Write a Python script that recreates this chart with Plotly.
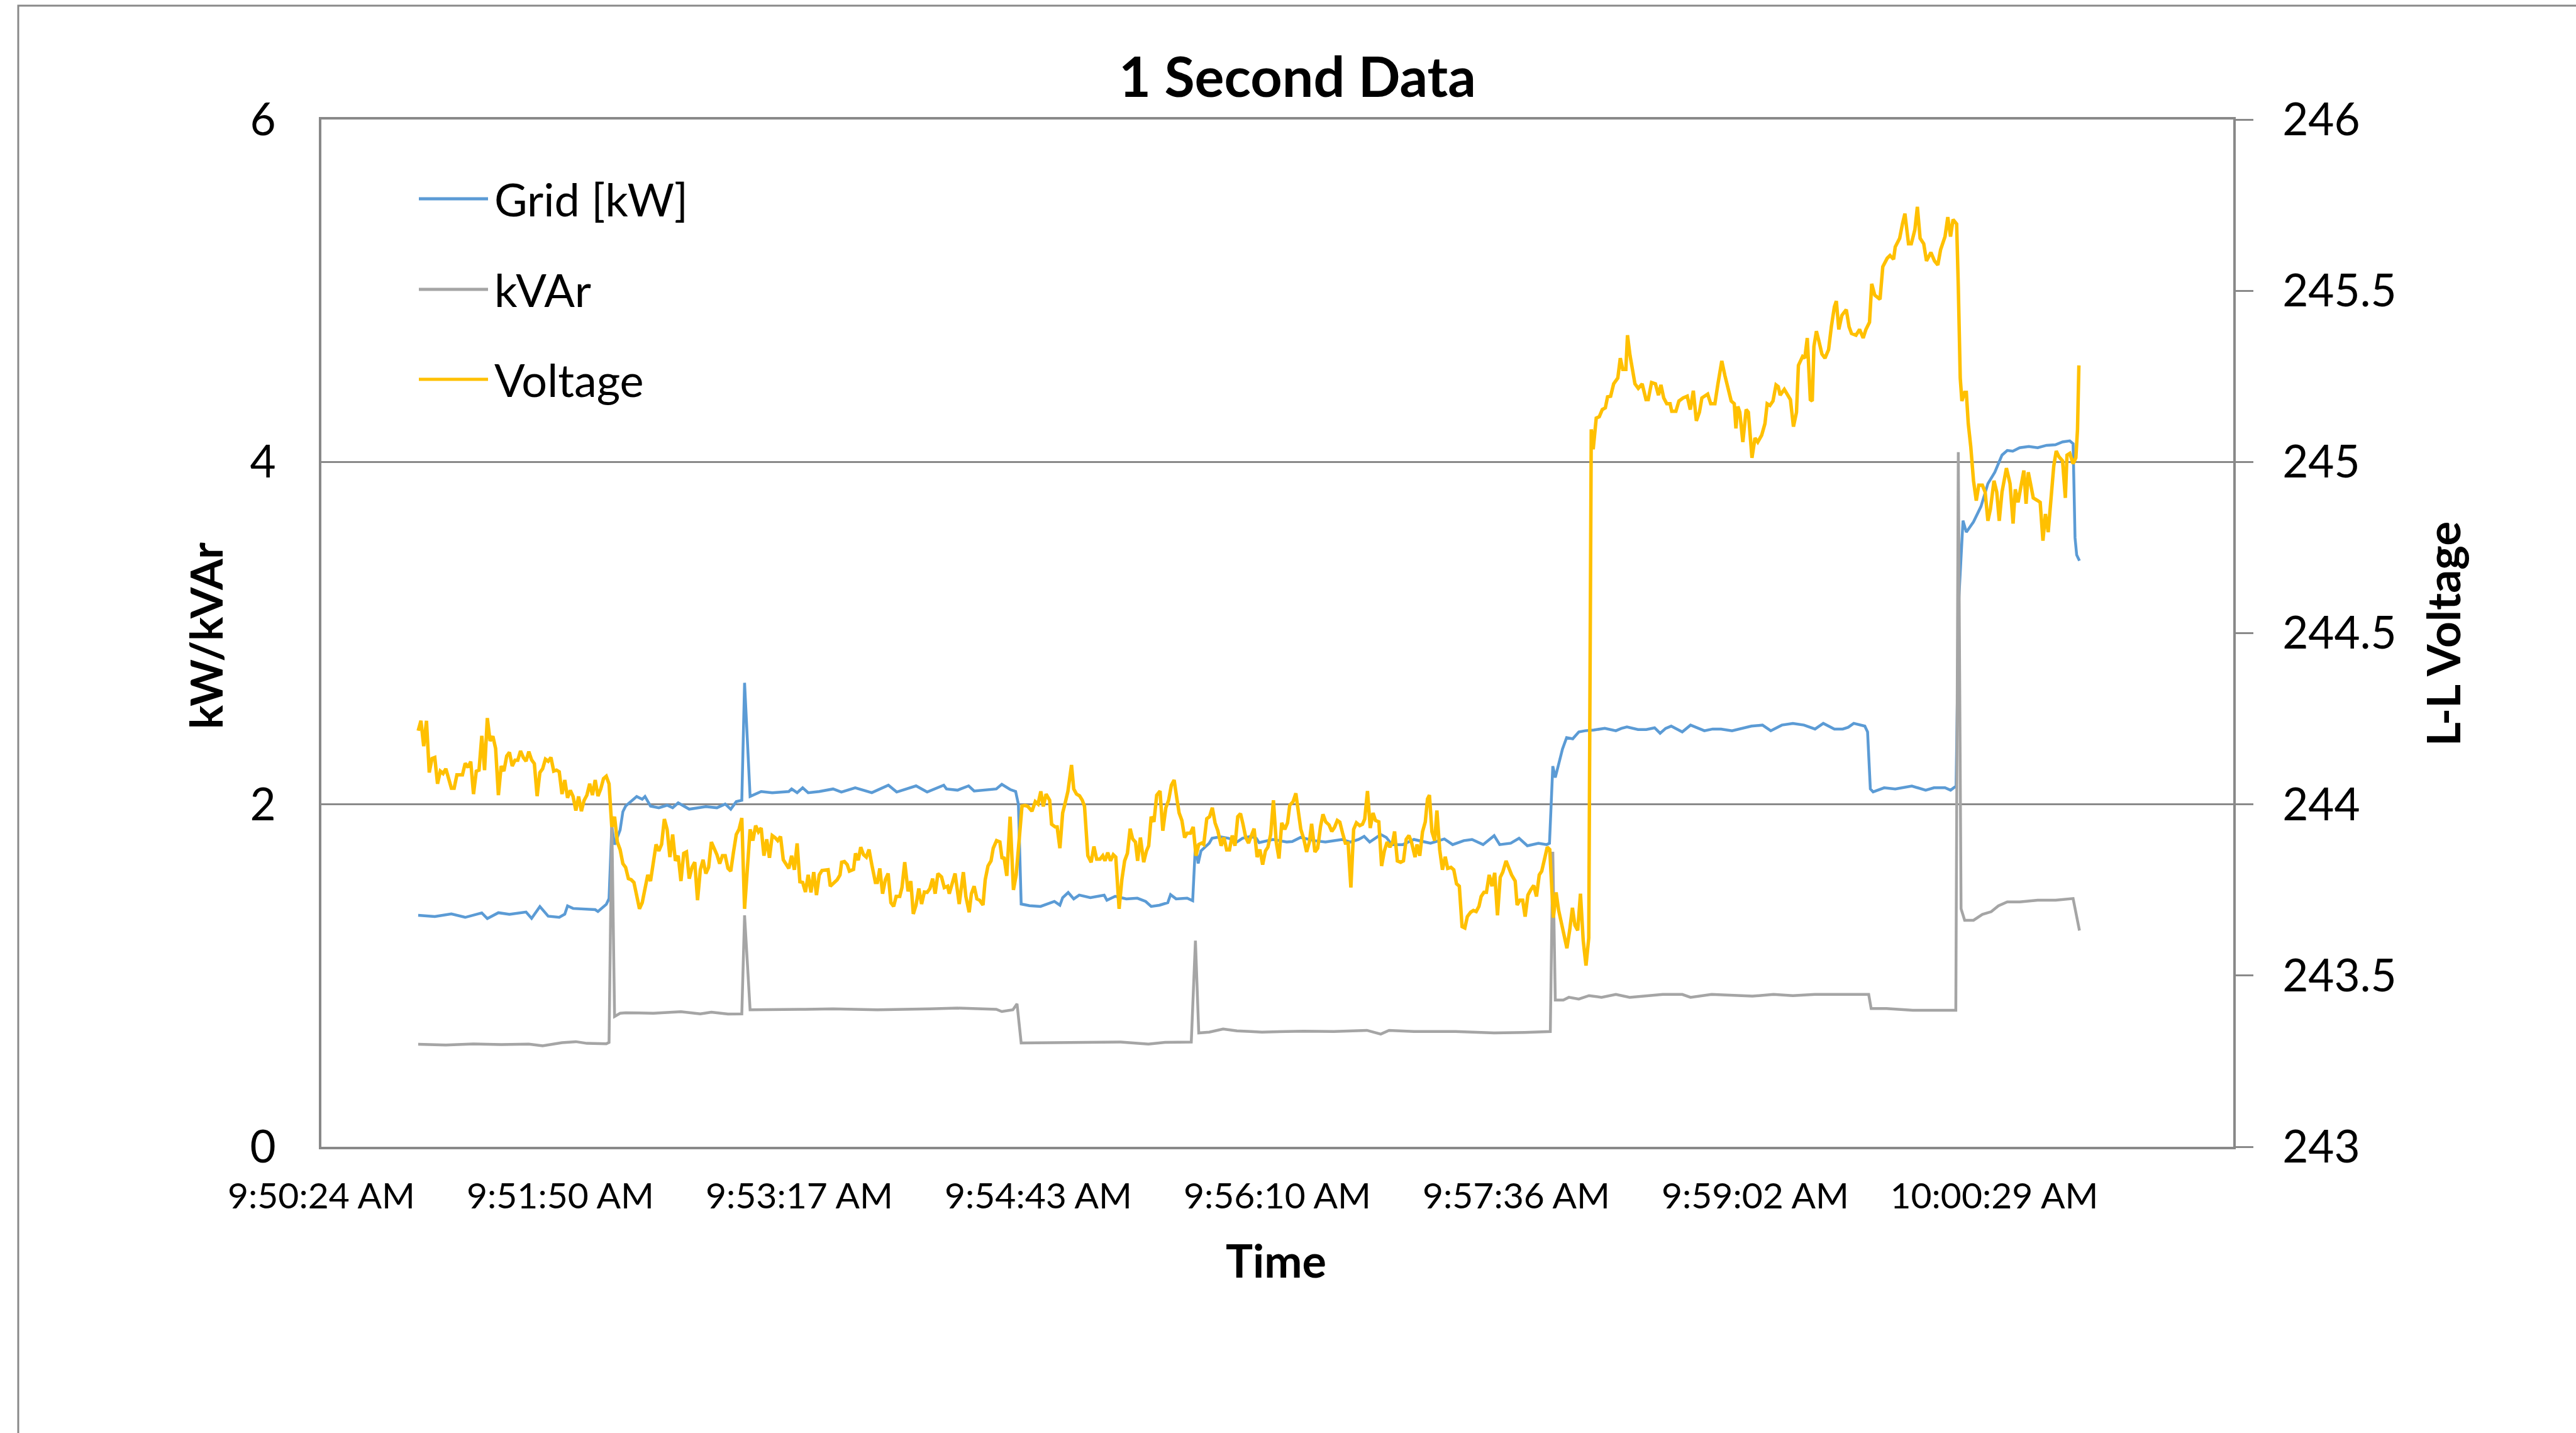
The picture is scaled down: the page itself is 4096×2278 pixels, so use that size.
import plotly.graph_objects as go

# ---------------- data ----------------
# time values are seconds after 9:50:24 AM (the axis origin)
tick_seconds = [0, 86.4, 172.8, 259.2, 345.6, 432.0, 518.4, 604.8]
tick_labels = ["9:50:24 AM", "9:51:50 AM", "9:53:17 AM", "9:54:43 AM",
               "9:56:10 AM", "9:57:36 AM", "9:59:02 AM", "10:00:29 AM"]

series_names = ["Grid [kW]", "kVAr", "Voltage"]

grid_t = [35, 41, 47, 52, 58, 60, 64, 68, 74, 76, 79, 82, 86, 88, 89, 91, 99, 100, 103, 104,
          105, 106, 108, 109, 110, 112, 114, 116, 117, 119, 122, 125, 127, 129, 133, 139, 143,
          146, 148, 150, 152, 153, 155, 159, 163, 169, 170, 172, 174, 176, 180, 185, 188, 193,
          199, 205, 208, 215, 219, 225, 226, 230, 234, 236, 244, 246, 249, 251, 252, 253, 256,
          260, 265, 267, 268, 270, 272, 274, 278, 283, 284, 287, 291, 295, 298, 300, 303, 306,
          307, 309, 313, 315, 316, 317, 318, 321, 322, 325, 328, 331, 333, 336, 338, 339, 341,
          344, 349, 351, 354, 359, 363, 369, 372, 375, 377, 379, 383, 385, 387, 391, 393, 395,
          399, 401, 406, 409, 413, 416, 420, 424, 426, 430, 433, 436, 440, 443, 444, 445.2,
          446.1, 447.2, 448.7, 450.2, 452.4, 454.6, 456.9, 460, 464, 468, 470, 472, 476, 479,
          482, 484, 486, 488, 492, 495, 500, 503, 506, 510, 517, 521, 524, 528, 532, 536, 540,
          543, 547, 550, 552, 554, 558, 559, 560, 561, 565, 569, 575, 580, 583, 587, 589, 591,
          592, 593.5, 594.7, 597.3, 600, 602.5, 605, 607.6, 609.5, 611.5, 614, 617.3, 620.5,
          623.7, 626.9, 629.5, 632.1, 633.3, 634.0, 634.6, 635.6]
grid_kw = [1.352, 1.345, 1.36, 1.34, 1.366, 1.333, 1.367, 1.358, 1.371, 1.334, 1.403, 1.347,
           1.34, 1.359, 1.407, 1.392, 1.385, 1.374, 1.416, 1.45,
           1.87, 1.765, 1.85, 1.957, 1.99, 2.016, 2.046, 2.03, 2.046, 1.99, 1.98, 1.995, 1.98,
           2.009, 1.972, 1.987, 1.98, 2.002, 1.972, 2.016, 2.024, 2.71, 2.046, 2.075, 2.068,
           2.075, 2.09, 2.068, 2.097, 2.068, 2.075, 2.09, 2.072, 2.097,
           2.068, 2.112, 2.072, 2.108, 2.072, 2.112, 2.09, 2.083, 2.108, 2.078, 2.09, 2.117,
           2.087, 2.075, 2.0, 1.418, 1.408,
           1.404, 1.433, 1.411, 1.455, 1.485, 1.448, 1.47, 1.455, 1.47, 1.44, 1.463, 1.448,
           1.452, 1.433, 1.404, 1.411, 1.426,
           1.473, 1.448, 1.452, 1.437, 1.765, 1.655, 1.728, 1.773, 1.802, 1.81, 1.802, 1.78,
           1.802, 1.813, 1.802, 1.777, 1.783,
           1.795, 1.78, 1.783, 1.807, 1.788, 1.78, 1.795, 1.78, 1.795, 1.813, 1.78, 1.824,
           1.807, 1.765, 1.765, 1.78, 1.795,
           1.78, 1.773, 1.798, 1.765, 1.788, 1.795, 1.765, 1.817, 1.765, 1.773, 1.802, 1.758,
           1.773, 1.765, 1.773, 2.223,
           2.157, 2.223, 2.323, 2.39, 2.383, 2.423, 2.43, 2.434, 2.444, 2.43, 2.444, 2.452,
           2.437, 2.437,
           2.447, 2.415, 2.444, 2.457, 2.423, 2.463, 2.43, 2.44, 2.44, 2.43, 2.457, 2.463,
           2.43, 2.463, 2.473, 2.463, 2.44,
           2.473, 2.44, 2.44, 2.45, 2.473, 2.457, 2.423, 2.09, 2.073, 2.097, 2.09, 2.107,
           2.083, 2.097, 2.097, 2.083, 2.107,
           3.2, 3.657, 3.59, 3.65, 3.74, 3.873, 3.94, 4.04, 4.067, 4.063, 4.083, 4.09, 4.083,
           4.097, 4.1, 4.117, 4.123, 4.107, 3.557, 3.457, 3.423]

kvar_t = [35, 45, 55, 65, 75, 80, 87, 92, 96, 103, 104, 105, 106, 108, 110, 120, 130, 137,
          141, 147, 152, 153, 155, 165, 175, 185, 201, 220, 230, 244, 246, 250, 251.5, 253,
          260, 270, 280, 289, 299, 305, 314.5, 316, 317.2, 321, 326, 331, 336, 340, 355, 366,
          378, 383, 386, 395, 410, 424, 435, 443.5, 444.3, 445.2, 446.1, 449, 451, 454.6,
          458.3, 462.8, 468, 473, 480.5, 485, 492, 495, 502.6, 510, 517.4, 525, 532, 540, 547,
          555, 559.4, 560.3, 565.8, 575.4, 585, 590.9, 591.8, 592.8, 594.1, 597.3, 600.5,
          603.7, 606.3, 609.5, 614, 620.5, 627, 633.3, 635.6]
kvar = [0.599, 0.594, 0.601, 0.597, 0.6, 0.59, 0.608, 0.614, 0.604, 0.602, 0.61, 1.913,
        0.761, 0.78, 0.783, 0.78, 0.789, 0.776, 0.786, 0.775, 0.776, 1.352, 0.8, 0.8, 0.803,
        0.806, 0.8, 0.806, 0.81, 0.803, 0.79, 0.8, 0.835, 0.606, 0.607, 0.61, 0.609, 0.612,
        0.6, 0.61, 0.612, 1.204, 0.665, 0.67, 0.688, 0.677, 0.673, 0.67, 0.675, 0.673, 0.68,
        0.658, 0.68, 0.673, 0.673, 0.665, 0.668, 0.673, 0.673, 1.723, 0.857, 0.857, 0.873,
        0.863, 0.883, 0.873, 0.89, 0.873, 0.883, 0.89, 0.89, 0.873, 0.89, 0.883, 0.88, 0.89,
        0.883, 0.89, 0.89, 0.89, 0.89, 0.807, 0.807, 0.797, 0.797, 0.797, 4.057, 1.39, 1.323,
        1.323, 1.357, 1.373, 1.407, 1.43, 1.43, 1.44, 1.44, 1.45, 1.263]

volt_t = [35, 36, 37, 38, 39, 40, 41, 42, 43, 44, 45, 46, 47, 48, 49, 51, 52, 53, 54, 55,
          56, 57, 58, 59, 60, 61, 62, 63, 64, 65, 66, 67, 68, 69, 70, 71, 72, 73, 74, 75, 76,
          77, 78, 79, 80, 81, 82, 83, 84, 85, 86, 87, 88, 89, 90, 91, 92, 93, 94, 95, 96, 97,
          98, 99, 100, 101, 102, 103, 104, 105, 106, 107, 108, 109, 110, 111, 112, 113, 115,
          116, 117, 118, 119, 120, 121, 122, 123, 124, 125, 126, 127, 128, 129, 130, 131, 132,
          133, 134, 135, 136, 137, 138, 139, 140, 141, 143, 144, 145, 146, 147, 148, 149, 150,
          151, 152, 153, 154, 155, 156, 157, 158, 159, 160, 161, 162, 163, 164, 165, 166, 167,
          169, 170, 171, 172, 173, 174, 175, 176, 177, 178, 179, 180, 181, 183.2, 184.0,
          185.5, 186.5, 187.5, 188.1, 189.1, 190.1, 190.9, 192.4, 193.1, 194.1, 195.0, 196.0,
          197.0, 198.0, 199.0, 200.3, 201.0, 201.9, 202.9, 203.9, 204.9, 205.9, 206.9, 207.8,
          209.1, 209.9, 210.9, 212.1, 213.1, 214.0, 215.0, 216.0, 217.0, 218.0, 219.0, 220.0,
          221.0, 221.9, 222.9, 224.2, 225.2, 226.4, 227.0, 228.0, 229.1, 230.6, 232.1, 233.0,
          234.2, 235.0, 236.0, 237.0, 238.0, 239.2, 240.0, 241.0, 242.1, 242.9, 244.1, 245.3,
          246.1, 246.8, 247.8, 249.0, 250.2, 251.2, 252.2, 253.3, 254.4, 255.4, 256.9, 258.1,
          259.1, 260.1, 261.0, 262.0, 263.3, 264.0, 265.3, 266.0, 267.0, 268.0, 268.7, 269.9,
          271.2, 272.0, 273.0, 274.1, 275.1, 275.9, 277.1, 278.3, 279.3, 280.3, 281.5, 282.5,
          283.3, 284.3, 285.3, 286.3, 287.2, 288.4, 289.4, 290.4, 291.4, 292.4, 293.3, 294.3,
          295.1, 296.1, 297.3, 298.3, 299.1, 300.0, 301.0, 302.0, 303.2, 304.2, 305.3, 306.3,
          307.3, 308.3, 309.3, 310.1, 311.1, 312.1, 313.0, 314.2, 315.2, 316.2, 317.2, 318.3,
          319.0, 320.1, 321.1, 322.1, 323.1, 324.1, 325.3, 326.3, 327.3, 328.3, 329.3, 330.3,
          331.3, 332.3, 333.2, 334.2, 335.2,
          336.3, 337.2, 338.3, 339.3, 340.3, 341.3, 342.2, 343.2, 344.2, 345.2, 346.2, 347.2,
          348.3, 349.3, 350.1, 351.3, 352.3, 353.1, 354.1, 355.2, 356.2, 357.2, 358.0, 359.2,
          360.2, 361.2, 362.1, 363.1, 364.3, 365.3, 366.3, 367.3, 368.2, 369.2, 370.2, 371.2,
          372.2, 373.2, 374.2, 375.4, 376.4, 377.2, 378.2, 379.2, 380.2, 381.1, 382.3, 383.3,
          384.3, 385.3, 386.3, 387.3, 388.0, 389.0, 390.2, 391.2, 392.2, 393.2, 394.1, 395.4,
          396.1, 397.1, 398.1, 399.1, 399.9, 400.6, 401.5, 402.5, 403.3, 404.3, 405.3, 406.3,
          407.2, 408.4, 409.4, 410.4, 411.4, 412.4, 413.4, 414.3, 415.5, 416.5, 417.5, 418.5,
          419.3, 420.3, 421.2, 422.2, 423.2, 424.2, 425.2, 426.2, 427.1, 428.3, 429.3, 430.3,
          431.6, 432.3, 433.3, 434.3, 435.2, 436.2, 437.2, 438.3, 439.3, 440.3, 441.2, 442.1,
          443.2, 444.1, 445.4, 446.4, 447.3, 448.3, 449.3, 450.3, 451.3, 452.3, 453.2, 454.2,
          455.2, 456.2, 457.2, 458.2,
          459.1, 459.8, 460.9, 462.0, 463.1, 464.2, 465.0, 466.1, 467.2, 468.7, 469.6, 470.5,
          471.6, 472.2, 473.1, 474.0, 474.9, 476.1, 477.5, 478.9, 479.7, 480.9, 482.3, 483.4,
          484.3, 485.3, 486.4, 487.6, 488.2, 489.7, 490.8, 492.3, 493.8, 494.9, 496.0, 497.1,
          498.2, 499.1, 500.4, 501.2, 502.3, 503.8, 504.9, 506.3, 507.4, 508.6, 509.7, 510.8,
          511.4, 512.1, 512.8, 513.9, 515.1, 515.9, 517.2, 518.3, 519.3, 520.7, 521.9, 522.7,
          523.7, 524.8, 525.9, 526.7, 527.4, 528.9, 531.1, 532.2, 533.3, 534.0, 535.5, 536.3,
          537.2, 538.3, 539.0, 539.6, 540.5, 541.4, 542.5, 543.6, 544.9, 545.9, 547.0, 547.7,
          548.6,
          549.7, 551.3, 552.3, 553.2, 554.8, 556.1, 557.4, 558.4, 559.7, 560.5, 561.6, 563.5,
          564.5, 566.1, 567.1, 568.4, 569.0, 570.6, 571.6, 572.5, 573.8, 574.8, 576.1, 577.0,
          578.0, 579.3, 580.3, 581.9, 583.2, 584.4, 585.4, 587.0, 588.0, 589.0, 589.9, 591.2,
          591.8, 592.5, 593.1, 594.1, 594.7, 595.4, 596.3, 597.3, 598.3, 599.2, 600.5, 601.5,
          602.5, 603.4, 604.7, 605.7, 606.6, 607.6, 609.2, 610.5, 611.6, 612.4, 613.4, 614.4,
          615.5, 616.3, 617.1, 617.9, 618.9, 620.5, 621.4, 622.4, 623.3, 624.3, 625.3, 626.3,
          627.2, 628.2, 629.5, 630.5, 631.1, 632.1, 633.3, 634.3, 634.9, 635.4]
voltage = [244.215, 244.244, 244.170, 244.244, 244.093, 244.134, 244.137, 244.060, 244.097,
           244.090, 244.104, 244.075, 244.047, 244.047, 244.086, 244.086, 244.120, 244.108,
           244.125, 244.030, 244.097, 244.100, 244.200, 244.100, 244.252, 244.185, 244.199,
           244.163, 244.027, 244.112, 244.097, 244.141, 244.152, 244.112, 244.129, 244.129,
           244.156, 244.137, 244.126, 244.154, 244.130, 244.119, 244.024, 244.093, 244.104,
           244.132, 244.126, 244.137, 244.097, 244.100, 244.095, 244.030, 244.071, 244.019,
           244.041, 244.023, 243.982, 244.023, 243.980, 244.012, 244.027, 244.060, 244.027,
           244.071, 244.024, 244.045, 244.075, 244.082, 244.060, 243.934, 243.964, 243.890,
           243.868, 243.827, 243.816, 243.783, 243.780, 243.772, 243.695, 243.713, 243.750,
           243.794, 243.776, 243.824, 243.883, 243.864, 243.883, 243.957, 243.927, 243.846,
           243.912, 243.835, 243.850, 243.776, 243.857, 243.861, 243.783, 243.816, 243.831,
           243.720, 243.809, 243.838, 243.798, 243.816, 243.890, 243.853, 243.827, 243.850,
           243.850, 243.813, 243.805, 243.861, 243.912, 243.927, 243.960, 243.695, 243.831,
           243.927, 243.894, 243.938, 243.920, 243.931, 243.850, 243.898, 243.844, 243.909,
           243.903, 243.894, 243.906, 243.838, 243.813, 243.850, 243.809, 243.886, 243.774,
           243.772, 243.744, 243.794, 243.743, 243.802, 243.735, 243.794, 243.807, 243.809,
           243.761,
           243.772, 243.780, 243.794, 243.831, 243.833, 243.824, 243.805, 243.810, 243.857,
           243.837, 243.875, 243.853, 243.846, 243.868, 243.824, 243.772, 243.772, 243.813,
           243.739, 243.780, 243.798, 243.713, 243.702, 243.731, 243.731, 243.757, 243.831,
           243.746, 243.776, 243.680, 243.706, 243.754, 243.709, 243.744, 243.743, 243.754,
           243.783, 243.739, 243.798, 243.788, 243.757, 243.761, 243.739, 243.768, 243.798,
           243.709, 243.802, 243.731, 243.685, 243.739, 243.761, 243.724, 243.720, 243.706,
           243.780, 243.820, 243.835, 243.872, 243.894, 243.890, 243.841, 243.846, 243.791,
           243.964, 243.750, 243.794, 243.883, 243.995, 243.997, 243.994, 243.980, 244.008,
           244.001, 244.038, 243.994, 244.030, 244.012, 243.942, 243.934, 243.934, 243.872,
           243.975, 243.997, 244.038, 244.115, 244.045, 244.030, 244.025, 244.012, 243.994,
           243.850, 243.831, 243.877, 243.840, 243.840, 243.850, 243.835, 243.859, 243.835,
           243.853, 243.846, 243.695, 243.780, 243.835, 243.857, 243.929, 243.899, 243.890,
           243.835, 243.903, 243.831, 243.864, 243.879, 243.964, 243.949, 244.027, 244.039,
           243.923, 243.990, 244.012, 244.056, 244.071, 244.016, 243.975, 243.953, 243.903,
           243.916, 243.916, 243.934, 243.850, 243.883, 243.887, 243.883, 243.958, 243.964,
           243.990, 243.946, 243.923, 243.879, 243.903, 243.867, 243.867, 243.909, 243.879,
           243.964, 243.973, 243.942, 243.903, 243.887,
           243.909, 243.929, 243.846, 243.868, 243.824, 243.864, 243.875, 243.912, 244.012,
           243.890, 243.842, 243.946, 243.927, 243.946, 243.997, 244.008, 244.032, 243.986,
           243.927, 243.898, 243.861, 243.890, 243.943, 243.861, 243.872, 243.934, 243.971,
           243.949, 243.940, 243.921, 243.933, 243.953, 243.948, 243.916, 243.887, 243.887,
           243.757, 243.927, 243.946, 243.938, 243.942, 243.957, 244.039, 243.931, 243.975,
           243.953, 243.949, 243.820, 243.864, 243.890, 243.875, 243.890, 243.921, 243.835,
           243.831, 243.835, 243.898, 243.909, 243.890, 243.846, 243.883, 243.850, 243.920,
           243.949, 244.016, 244.027, 243.920, 243.894, 243.982, 243.868, 243.809, 243.847,
           243.813, 243.816, 243.809, 243.768, 243.761, 243.643, 243.639, 243.672, 243.685,
           243.690, 243.687, 243.702, 243.731, 243.743, 243.743, 243.794, 243.761, 243.800,
           243.676, 243.787, 243.802, 243.835, 243.816, 243.794, 243.776, 243.706, 243.720,
           243.720, 243.672, 243.735, 243.750, 243.763, 243.731, 243.794, 243.805, 243.838,
           243.875, 243.868, 243.669, 243.743, 243.691, 243.654, 243.617, 243.580, 243.632,
           243.698, 243.647, 243.632, 243.739, 243.602, 243.529, 243.610,
           245.095, 245.037, 245.128, 245.132, 245.153, 245.158, 245.190, 245.192, 245.228,
           245.245, 245.303, 245.270, 245.270, 245.370, 245.312, 245.270, 245.228, 245.215,
           245.228, 245.182, 245.182, 245.232, 245.228, 245.195, 245.225, 245.187, 245.170,
           245.170, 245.148, 245.148, 245.178, 245.187, 245.192, 245.153, 245.208, 245.120,
           245.145, 245.187, 245.195, 245.198, 245.170, 245.170, 245.228, 245.295, 245.253,
           245.215, 245.178, 245.170, 245.098, 245.162, 245.145, 245.058, 245.153, 245.145,
           245.012, 245.070, 245.058, 245.078, 245.112, 245.170, 245.165, 245.178, 245.225,
           245.220, 245.195, 245.212, 245.182, 245.103, 245.145, 245.282, 245.308, 245.303,
           245.362, 245.182, 245.178, 245.337, 245.382, 245.353, 245.315, 245.303, 245.328,
           245.395, 245.453, 245.470, 245.387,
           245.428, 245.445, 245.395, 245.375, 245.370, 245.387, 245.362, 245.387, 245.408,
           245.520, 245.487, 245.475, 245.570, 245.595, 245.603, 245.592, 245.628, 245.653,
           245.695, 245.725, 245.637, 245.637, 245.678, 245.745, 245.653, 245.637, 245.587,
           245.612, 245.587, 245.575, 245.620, 245.658, 245.715, 245.658, 245.708, 245.695,
           245.512, 245.245, 245.178, 245.203, 245.203, 245.112, 245.045, 244.945, 244.887,
           244.932, 244.932, 244.912, 244.828, 244.862, 244.945, 244.912, 244.828, 244.912,
           244.982, 244.937, 244.820, 244.920, 244.882, 244.928, 244.975, 244.878, 244.970,
           244.937, 244.895, 244.887, 244.882, 244.770, 244.848, 244.795, 244.903, 244.987,
           245.032, 245.015, 245.003, 244.895, 245.020, 245.025, 244.995, 245.012, 245.095,
           245.282]

# ---------------- styling ----------------
FONT = "Lato"
AXIS_GRAY = "#898989"
colors = ["#5B9BD5", "#A5A5A5", "#FFC000"]
widths = [4.5, 4.5, 5.5]

fig = go.Figure()
fig.add_trace(go.Scatter(x=grid_t, y=grid_kw, name=series_names[0], mode="lines",
                         line=dict(color=colors[0], width=widths[0]), showlegend=False))
fig.add_trace(go.Scatter(x=kvar_t, y=kvar, name=series_names[1], mode="lines",
                         line=dict(color=colors[1], width=widths[1]), showlegend=False))
fig.add_trace(go.Scatter(x=volt_t, y=voltage, name=series_names[2], mode="lines",
                         line=dict(color=colors[2], width=widths[2]), yaxis="y2",
                         showlegend=False))

W, H = 4096, 2278
L, R, T, B = 511, 545, 190, 455
pw, ph = W - L - R, H - T - B


def px(x):
    return (x - L) / pw


def py(y):
    return (H - B - y) / ph


shapes = []
annotations = []

# outer chart frame (top and left edges visible)
shapes.append(dict(type="rect", xref="paper", yref="paper",
                   x0=px(29), x1=px(4300), y0=py(2400), y1=py(9),
                   line=dict(color=AXIS_GRAY, width=3), fillcolor="rgba(0,0,0,0)",
                   layer="below"))

# custom legend
leg_y = [316, 460, 603]
for i, name in enumerate(series_names):
    shapes.append(dict(type="line", xref="paper", yref="paper",
                       x0=px(666), x1=px(776), y0=py(leg_y[i]), y1=py(leg_y[i]),
                       line=dict(color=colors[i], width=5)))
    annotations.append(dict(text=name, xref="paper", yref="paper", x=px(784),
                            y=py(leg_y[i]), xanchor="left", yanchor="middle",
                            showarrow=False,
                            font=dict(family=FONT, size=72, color="black")))

# axis titles
annotations.append(dict(text="kW/kVAr", xref="paper", yref="paper", x=px(326), y=py(1011),
                        textangle=-90, showarrow=False, xanchor="center", yanchor="middle",
                        font=dict(family=FONT, size=71, color="black", weight="bold")))
annotations.append(dict(text="L-L Voltage", xref="paper", yref="paper", x=px(3884),
                        y=py(1008), textangle=-90, showarrow=False, xanchor="center",
                        yanchor="middle",
                        font=dict(family=FONT, size=73, color="black", weight="bold")))
annotations.append(dict(text="Time", xref="paper", yref="paper", x=px(2029), y=py(2003),
                        showarrow=False, xanchor="center", yanchor="middle",
                        font=dict(family=FONT, size=72, color="black", weight="bold")))

fig.update_layout(
    width=W, height=H, autosize=False,
    margin=dict(l=L, r=R, t=T, b=B, pad=0),
    paper_bgcolor="white", plot_bgcolor="white",
    title=dict(text="1 Second Data", x=2063 / W, xref="container", xanchor="center",
               y=1 - 123 / H, yref="container", yanchor="middle",
               font=dict(family=FONT, size=88, color="black", weight="bold")),
    xaxis=dict(range=[0, 691.2], tickmode="array", tickvals=tick_seconds,
               ticktext=tick_labels, showgrid=False, zeroline=False,
               showline=True, linecolor=AXIS_GRAY, linewidth=4, mirror=True,
               ticks="", ticklabelstandoff=26,
               tickfont=dict(family=FONT, size=57, color="black")),
    yaxis=dict(range=[0, 6], tickmode="linear", tick0=0, dtick=2, showgrid=True,
               gridcolor=AXIS_GRAY, gridwidth=3, zeroline=False, showline=True,
               linecolor=AXIS_GRAY, linewidth=4, ticks="", ticklabelstandoff=54,
               tickfont=dict(family=FONT, size=71, color="black")),
    yaxis2=dict(range=[243, 246], tickmode="linear", tick0=243, dtick=0.5,
                overlaying="y", side="right", showgrid=False, zeroline=False,
                showline=True, linecolor=AXIS_GRAY, linewidth=4,
                ticks="outside", ticklen=28, tickwidth=3, tickcolor=AXIS_GRAY,
                ticklabelstandoff=32,
                tickfont=dict(family=FONT, size=71, color="black")),
    shapes=shapes,
    annotations=annotations,
)

fig.write_html("out.html", config={"displayModeBar": False},
               post_script="document.body.style.margin='0px';")
